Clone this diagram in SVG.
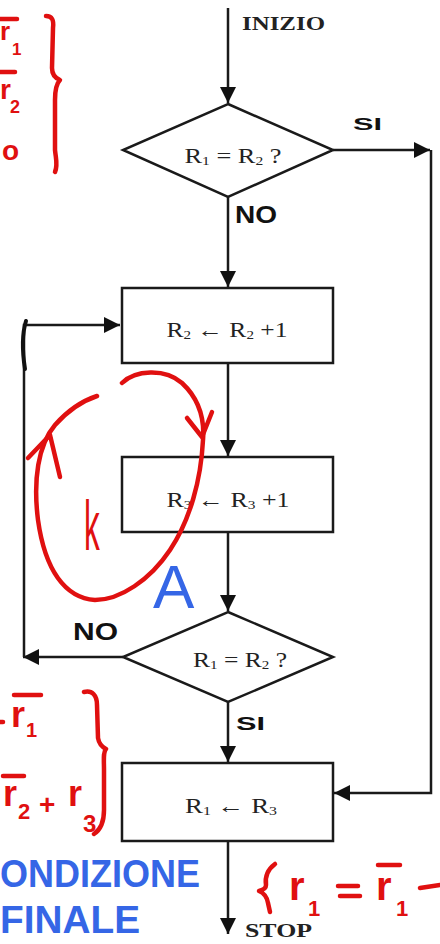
<svg xmlns="http://www.w3.org/2000/svg" width="440" height="944" viewBox="0 0 440 944">
  <defs>
    <marker id="arrow" markerUnits="userSpaceOnUse" markerWidth="18" markerHeight="18" refX="16" refY="8" orient="auto">
      <path d="M0,0 L16,8 L0,16 z" fill="#111"/>
    </marker>
    <style>
      .shape { fill: #fff; stroke: #1a1a1a; stroke-width: 2.5; }
      .line { fill: none; stroke: #1a1a1a; stroke-width: 2.5; marker-end: url(#arrow); }
      .lbl { font-family: "Liberation Serif", "DejaVu Serif", serif; font-size: 22px; fill: #222; text-anchor: middle; }
      .sub { font-size: 13px; }
      .term { font-family: "Liberation Serif", "DejaVu Serif", serif; font-size: 19px; font-weight: bold; fill: #222; }
      .hand { font-family: "Liberation Sans", "DejaVu Sans", sans-serif; font-weight: bold; fill: #111; }
      .red { font-family: "Liberation Sans", "DejaVu Sans", sans-serif; font-weight: bold; fill: #e01010; }
      .redpen { fill: none; stroke: #e01010; stroke-width: 4.5; stroke-linecap: round; stroke-linejoin: round; }
      .blue { font-family: "Liberation Sans", "DejaVu Sans", sans-serif; font-weight: bold; fill: #3566e6; }
      .thin { font-weight: normal; }
    </style>
  </defs>

  <rect width="440" height="944" fill="#fff"/>

  <!-- connectors -->
  <g id="connectors">
    <line class="line" x1="228" y1="8" x2="228" y2="103"/>
    <line class="line" x1="333" y1="150" x2="430" y2="150"/>
    <polyline class="line" points="431,150 431,793 334,793"/>
    <line class="line" x1="228" y1="197" x2="228" y2="287"/>
    <line class="line" x1="228" y1="363" x2="228" y2="456"/>
    <line class="line" x1="228" y1="532" x2="228" y2="611"/>
    <line class="line" x1="123" y1="657" x2="23" y2="657"/>
    <polyline class="line" points="24,657 24,325 120,325"/>
    <line class="line" x1="228" y1="702" x2="228" y2="762"/>
    <line class="line" x1="228" y1="841" x2="228" y2="934"/>
    <!-- branch labels -->
    <text class="hand" x="353" y="130" font-size="16" textLength="29" lengthAdjust="spacingAndGlyphs">SI</text>
    <text class="hand" x="235" y="223" font-size="24" textLength="42" lengthAdjust="spacingAndGlyphs">NO</text>
    <text class="hand" x="73" y="640" font-size="24" textLength="45" lengthAdjust="spacingAndGlyphs">NO</text>
    <text class="hand" x="236" y="730" font-size="18" textLength="29" lengthAdjust="spacingAndGlyphs">SI</text>
  </g>

  <!-- flowchart nodes -->
  <g id="start">
    <text class="term" x="242" y="30" textLength="83" lengthAdjust="spacingAndGlyphs">INIZIO</text>
  </g>

  <g id="test-1">
    <polygon class="shape" points="228,104 333,150 228,197 123,150"/>
    <text class="lbl" x="233" y="163" textLength="97" lengthAdjust="spacingAndGlyphs">R<tspan class="sub" dy="2">1</tspan><tspan dy="-2"> = R</tspan><tspan class="sub" dy="2">2</tspan><tspan dy="-2"> ?</tspan></text>
  </g>

  <g id="inc-r2">
    <rect class="shape" x="122" y="288" width="211" height="75"/>
    <text class="lbl" x="227" y="337" textLength="121" lengthAdjust="spacingAndGlyphs">R<tspan class="sub" dy="2">2</tspan><tspan dy="-2"> ← R</tspan><tspan class="sub" dy="2">2</tspan><tspan dy="-2"> +1</tspan></text>
  </g>

  <g id="inc-r3">
    <rect class="shape" x="122" y="457" width="211" height="75"/>
    <text class="lbl" x="228" y="507" textLength="123" lengthAdjust="spacingAndGlyphs">R<tspan class="sub" dy="2">3</tspan><tspan dy="-2"> ← R</tspan><tspan class="sub" dy="2">3</tspan><tspan dy="-2"> +1</tspan></text>
  </g>

  <g id="test-2">
    <polygon class="shape" points="228,612 333,657 228,702 123,657"/>
    <text class="lbl" x="240" y="667" textLength="94" lengthAdjust="spacingAndGlyphs">R<tspan class="sub" dy="2">1</tspan><tspan dy="-2"> = R</tspan><tspan class="sub" dy="2">2</tspan><tspan dy="-2"> ?</tspan></text>
  </g>

  <g id="assign-r1">
    <rect class="shape" x="122" y="763" width="211" height="78"/>
    <text class="lbl" x="231" y="813" textLength="92" lengthAdjust="spacingAndGlyphs">R<tspan class="sub" dy="2">1</tspan><tspan dy="-2"> ← R</tspan><tspan class="sub" dy="2">3</tspan></text>
  </g>

  <g id="stop">
    <text class="term" x="245" y="937" textLength="67" lengthAdjust="spacingAndGlyphs">STOP</text>
  </g>

  <!-- hand-drawn notes -->
  <g id="notes">
    <!-- pen mark on the loop-back line -->
    <path d="M26,321 C22,334 22,350 25,369" fill="none" stroke="#111" stroke-width="4" stroke-linecap="round"/>

    <!-- top-left: initial values -->
    <line class="redpen" x1="0" y1="19" x2="17" y2="19"/>
    <text class="red" x="0" y="40" font-size="26">r</text>
    <text class="red" x="12" y="55" font-size="17">1</text>
    <line class="redpen" x1="0" y1="72" x2="15" y2="72"/>
    <text class="red" x="0" y="99" font-size="28">r</text>
    <text class="red" x="10" y="113" font-size="18">2</text>
    <text class="red" x="2" y="160" font-size="28">o</text>
    <path class="redpen" d="M46,16 C52,16 54,20 53,28 L52,68 C52,75 55,78 60,80 C56,84 55,90 55,100 L55,150 C56,160 58,165 55,172"/>

    <!-- loop around the two increments -->
    <path class="redpen" stroke-width="5" d="M122,383 C135,370 165,368 182,383 C197,397 205,415 203,440 C201,480 190,520 170,550 C150,580 120,600 95,600 C65,598 45,570 38,520 C33,480 38,445 55,425 C70,408 85,400 97,396"/>
    <path class="redpen" stroke-width="5" d="M187,418 L202,437 L212,412"/>
    <path class="redpen" stroke-width="5" d="M28,458 L50,435 L60,477"/>
    <text class="red thin" x="84" y="550" font-size="70" transform="translate(84 0) scale(0.45 1) translate(-84 0)">k</text>
    <text class="blue thin" x="153" y="608" font-size="62">A</text>

    <!-- bottom-left: values at the end -->
    <line class="redpen" x1="0" y1="722" x2="3" y2="722"/>
    <line class="redpen" x1="14" y1="695" x2="41" y2="695"/>
    <text class="red" x="11" y="727" font-size="36">r</text>
    <text class="red" x="26" y="737" font-size="20">1</text>
    <line class="redpen" x1="3" y1="776" x2="24" y2="776"/>
    <text class="red" x="3" y="806" font-size="36">r</text>
    <text class="red" x="18" y="819" font-size="22">2</text>
    <text class="red" x="39" y="814" font-size="28">+</text>
    <text class="red" x="68" y="806" font-size="36">r</text>
    <text class="red" x="83" y="832" font-size="24">3</text>
    <path class="redpen" d="M84,692 C92,690 97,695 97,705 L98,738 C99,744 102,747 106,749 C103,752 104,760 104,770 L104,810 C104,822 100,830 94,834"/>

    <!-- final condition -->
    <text class="blue" x="0" y="887" font-size="38" textLength="200" lengthAdjust="spacingAndGlyphs">ONDIZIONE</text>
    <text class="blue" x="0" y="933" font-size="38" textLength="140" lengthAdjust="spacingAndGlyphs">FINALE</text>

    <!-- bottom-right: result -->
    <path class="redpen" d="M275,864 C267,870 265,878 266,885 C266,888 263,890 259,891 C264,893 267,897 268,903 L270,912"/>
    <text class="red" x="289" y="900" font-size="40">r</text>
    <text class="red" x="308" y="916" font-size="22">1</text>
    <line class="redpen" x1="338" y1="886" x2="358" y2="886"/>
    <line class="redpen" x1="340" y1="896" x2="360" y2="896"/>
    <line class="redpen" x1="378" y1="865" x2="400" y2="865"/>
    <text class="red" x="376" y="900" font-size="40">r</text>
    <text class="red" x="396" y="916" font-size="22">1</text>
    <line class="redpen" x1="420" y1="888" x2="440" y2="885"/>
  </g>
</svg>
